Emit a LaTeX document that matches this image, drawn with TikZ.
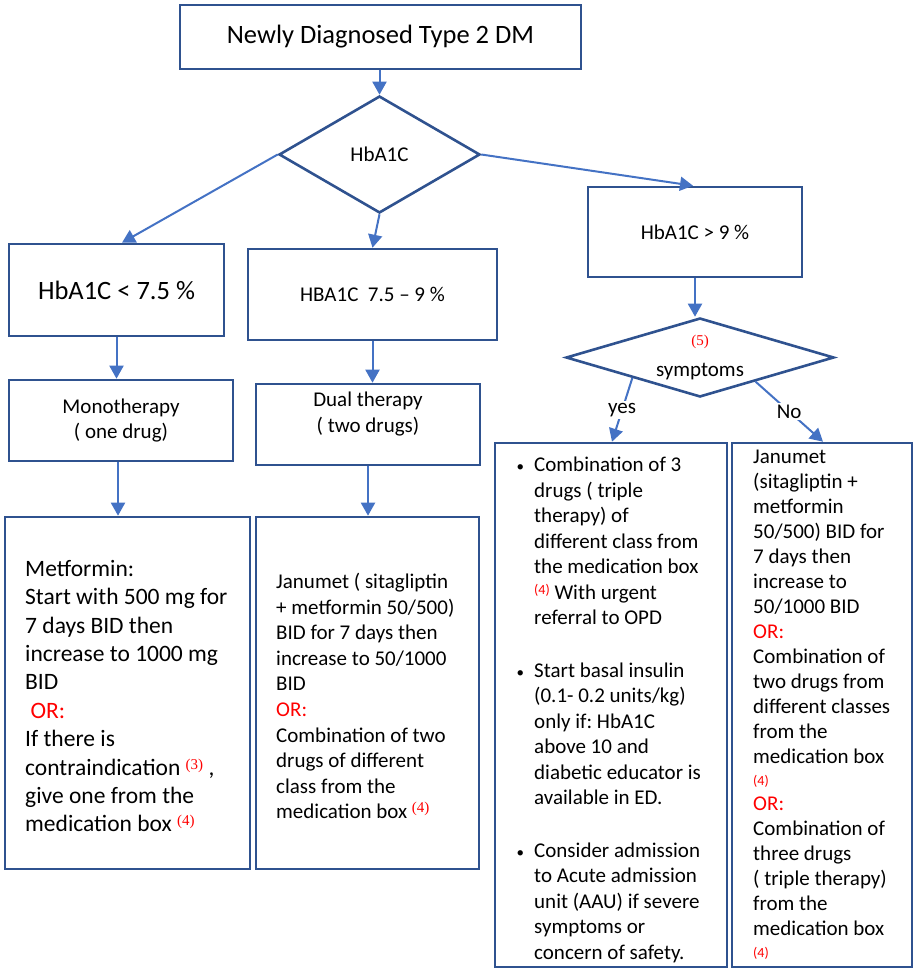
\documentclass[tikz,border=0pt]{standalone}
\usepackage{fontspec}
\setmainfont{Carlito}
\newfontfamily\refserif{Liberation Serif}
\usetikzlibrary{shapes.geometric,arrows.meta,calc}
\frenchspacing

\definecolor{boxblue}{HTML}{2F528F}
\definecolor{arrowblue}{HTML}{4472C4}
\definecolor{orred}{HTML}{FF0000}

% font size helper: size and baseline skip in pt
\newcommand\textsz[2]{\fontsize{#1}{#2}\selectfont}
% red reference marks
\newcommand\srcref[1]{\raisebox{6pt}{\refserif\fontsize{15}{15}\selectfont\textcolor{orred}{(#1)}}}
\newcommand\calref[1]{\raisebox{5pt}{\fontsize{14}{14}\selectfont\textcolor{orred}{(#1)}}}
\newcommand\smallref[1]{{\fontsize{14}{14}\selectfont\textcolor{orred}{(#1)}}}
\newcommand\orword{\textcolor{orred}{OR:}}
\newcommand\itemdot{\llap{{\fontsize{15}{15}\selectfont\textbullet}\hspace{10pt}}}

\begin{document}
\begin{tikzpicture}[x=1pt,y=-1pt,
  box/.style={draw=boxblue, line width=2.6pt, inner sep=0pt},
  decision/.style={diamond, draw=boxblue, line width=2.6pt, inner sep=0pt},
  flow/.style={draw=arrowblue, line width=2pt, -{Triangle[length=13pt,width=14pt]}},
  body/.style={align=left, inner sep=0pt, anchor=west},
  tag/.style={fill=white, inner sep=2pt, font=\textsz{21}{25}}
]
\useasboundingbox (0,0) rectangle (914,971);

% top of the chart
\node[box, minimum width=401pt, minimum height=64pt, font=\textsz{26.5}{30}] (start) at (380.5,37) {Newly Diagnosed Type 2 DM};
\node[decision, minimum width=201pt, minimum height=117pt, font=\textsz{21}{25}] (hb) at (379.5,154.5) {HbA1C};

% three HbA1C ranges
\node[box, minimum width=215pt, minimum height=92pt, font=\textsz{26.5}{30}] (low) at (116.5,290) {HbA1C < 7.5 \%};
\node[box, minimum width=249pt, minimum height=91pt, font=\textsz{21}{25}] (midr) at (372.5,294.5) {HBA1C\ \ 7.5 – 9 \%};
\node[box, minimum width=214pt, minimum height=90pt, font=\textsz{21}{25}] (high) at (695,232) {HbA1C > 9 \%};

% therapy type
\node[box, minimum width=224pt, minimum height=81pt, align=center, font=\textsz{21}{25.5}] (mono) at (121,420.5) {Monotherapy\\( one drug)};
\node[box, minimum width=224pt, minimum height=81pt] (dual) at (368,424.5) {};
\node[align=center, inner sep=0pt, font=\textsz{21}{25.5}] (dualtext) at (368,414) {Dual therapy\\( two drugs)};

% treatment boxes, left and middle
\node[box, minimum width=245pt, minimum height=352pt] (met) at (127.5,693) {};
\node[body, font=\textsz{23.5}{28.4}] (mettext) at (25,696) {Metformin:\\
Start with 500 mg for\\
7 days BID then\\
increase to 1000 mg\\
BID\\
\ \orword\\
If there is\\
contraindication \srcref{3} ,\\
give one from the\\
medication box \srcref{4}};

\node[box, minimum width=223pt, minimum height=352pt] (jan) at (367.5,693) {};
\node[body, font=\textsz{21}{25.6}] (jantext) at (276,696) {Janumet ( sitagliptin\\
+ metformin 50/500)\\
BID for 7 days then\\
increase to 50/1000\\
BID\\
\orword\\
Combination of two\\
drugs of different\\
class from the\\
medication box \srcref{4}};

% symptoms decision
\node[decision, minimum width=268pt, minimum height=79pt] (sym) at (700,357.5) {};
\node[inner sep=0pt, font=\textsz{21}{25}] (symtext) at (700,372) {symptoms};
\node[inner sep=0pt, font=\refserif\textsz{15}{15}, text=orred] (symref) at (700,342) {(5)};

% treatment boxes, right
\node[box, minimum width=232pt, minimum height=524pt] (yesbox) at (611,705) {};
\node[body, font=\textsz{21}{25.5}] (yestext) at (534,710) {\itemdot Combination of 3\\
drugs ( triple\\
therapy) of\\
different class from\\
the medication box\\
\calref{4} With urgent\\
referral to OPD\\[27pt]
\itemdot Start basal insulin\\
(0.1- 0.2 units/kg)\\
only if: HbA1C\\
above 10 and\\
diabetic educator is\\
available in ED.\\[27pt]
\itemdot Consider admission\\
to Acute admission\\
unit (AAU) if severe\\
symptoms or\\
concern of safety.};

\node[box, minimum width=180pt, minimum height=524pt] (nobox) at (822,705) {};
\node[body, font=\textsz{21}{25}] (notext) at (753,705) {Janumet\\
(sitagliptin +\\
metformin\\
50/500) BID for\\
7 days then\\
increase to\\
50/1000 BID\\
\orword\\
Combination of\\
two drugs from\\
different classes\\
from the\\
medication box\\[-3pt]
\smallref{4}\\
\orword\\
Combination of\\
three drugs\\
( triple therapy)\\
from the\\
medication box\\[-3pt]
\smallref{4}};

% connectors
\draw[flow] (hb.north |- start.south) -- (hb.north);
\draw[flow] (hb.west) -- ($(low.north)+(5.5,0)$);
\draw[flow] (hb.south) -- (midr.north);
\draw[flow] (hb.east) -- ($(high.north)+(-2,0)$);
\draw[flow] (low.south) -- (low.south |- mono.north);
\coordinate (monoout) at ($(mono.south)+(-3,0)$);
\draw[flow] (monoout) -- (monoout |- met.north);
\draw[flow] (midr.south) -- (midr.south |- dual.north);
\draw[flow] (dual.south) -- (dual.south |- jan.north);
\draw[flow] (high.south) -- (high.south |- sym.north);
\coordinate (yesout) at ($(sym.west)!0.5!(sym.south)$);
\draw[flow] (yesout) -- node[tag] {yes} ($(yesbox.north)+(1,0)$);
\coordinate (noout) at ($(sym.south)!0.41!(sym.east)$);
\draw[flow] (noout) -- node[tag] {No} ($(nobox.north)+(1,0)$);
\end{tikzpicture}
\end{document}
